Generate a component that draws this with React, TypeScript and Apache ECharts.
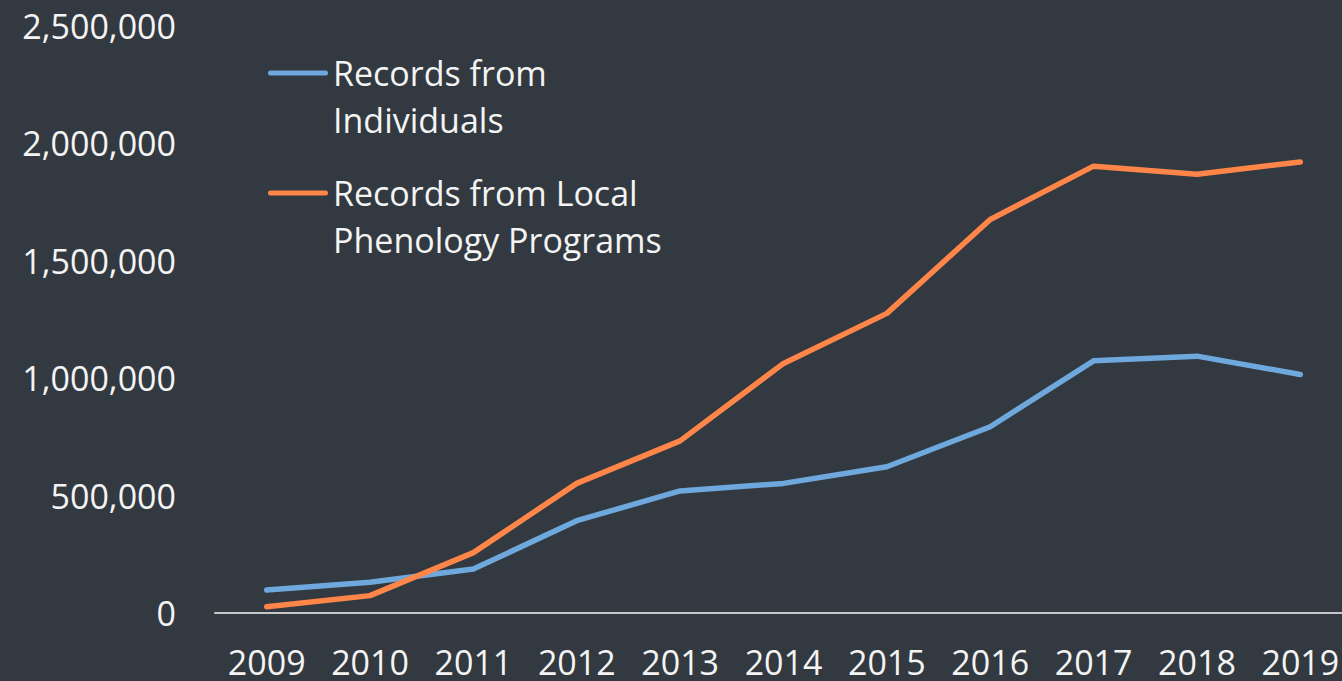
import React, { useEffect, useRef } from "react";
import * as echarts from "echarts";

const years = ["2009", "2010", "2011", "2012", "2013", "2014", "2015", "2016", "2017", "2018", "2019"];
const seriesNames = ["Records from Individuals", "Records from Local Phenology Programs"];
const legendLabels = ["Records from\nIndividuals", "Records from Local\nPhenology Programs"];
const individuals = [98000, 131000, 187000, 393000, 520000, 552000, 623000, 793000, 1074000, 1094000, 1016000];
const localPrograms = [27000, 74000, 257000, 552000, 733000, 1063000, 1276000, 1676000, 1903000, 1869000, 1921000];
const yTicks = [0, 500000, 1000000, 1500000, 2000000, 2500000];
const seriesColors = ["#6fa8dc", "#ff8548"];

const FONT = "'Open Sans', 'Noto Sans', sans-serif";
const TEXT = "#f4f4f4";

export default function App() {
  const ref = useRef<HTMLDivElement>(null);
  useEffect(() => {
    document.body.style.margin = "0";
    const chart = echarts.init(ref.current!, undefined, { renderer: "svg" });
    const icon =
      "path://M0,0L0.01,0M2.5,21L57.5,21A2.5,2.5,0,0,1,57.5,26L2.5,26A2.5,2.5,0,0,1,2.5,21ZM0,94L0.01,94";
    chart.setOption({
      animation: false,
      backgroundColor: "#333940",
      textStyle: { fontFamily: FONT },
      grid: { left: 215, top: 26, width: 1137, height: 587, containLabel: false },
      legend: {
        orient: "vertical",
        left: 268,
        top: 49.5,
        padding: 0,
        itemWidth: 60,
        itemHeight: 94,
        itemGap: 26,
        icon,
        itemStyle: { borderWidth: 0 },
        data: seriesNames,
        formatter: (name: string) => legendLabels[seriesNames.indexOf(name)],
        textStyle: { color: TEXT, fontSize: 34, lineHeight: 47, fontFamily: FONT },
      },
      xAxis: {
        type: "category",
        data: years,
        boundaryGap: true,
        axisTick: { show: false },
        axisLine: { lineStyle: { color: "#c8c8c8", width: 2 } },
        axisLabel: { color: TEXT, fontSize: 34, lineHeight: 24, margin: 37, fontFamily: FONT },
        splitLine: { show: false },
      },
      yAxis: {
        type: "value",
        min: yTicks[0],
        max: yTicks[yTicks.length - 1],
        interval: yTicks[1] - yTicks[0],
        axisLine: { show: false },
        axisTick: { show: false },
        splitLine: { show: false },
        axisLabel: {
          color: TEXT,
          fontSize: 34,
          margin: 39,
          fontFamily: FONT,
          formatter: (v: number) => v.toLocaleString("en-US"),
        },
      },
      series: [
        {
          name: seriesNames[0],
          type: "line",
          data: individuals,
          symbol: "none",
          color: seriesColors[0],
          lineStyle: { width: 5.5, color: seriesColors[0], cap: "round", join: "round" },
        },
        {
          name: seriesNames[1],
          type: "line",
          data: localPrograms,
          symbol: "none",
          color: seriesColors[1],
          lineStyle: { width: 5.5, color: seriesColors[1], cap: "round", join: "round" },
        },
      ],
    });
    return () => chart.dispose();
  }, []);
  return (
    <div style={{ position: "absolute", left: 0, top: 0, width: 1342, height: 681, overflow: "hidden" }}>
      <div ref={ref} style={{ width: 1370, height: 681 }} />
    </div>
  );
}
